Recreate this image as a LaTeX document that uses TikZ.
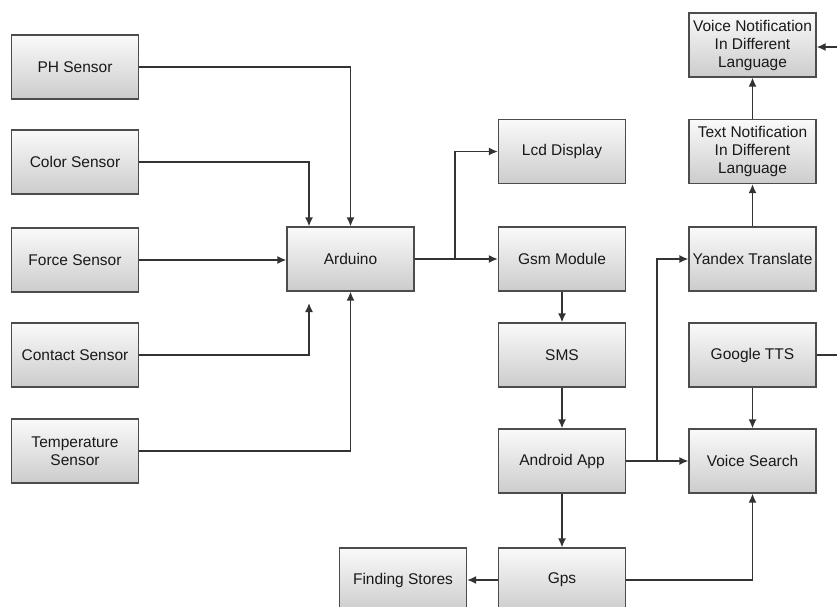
\documentclass[tikz,border=0pt]{standalone}
\usepackage{fontspec}
\setmainfont{Liberation Sans}
\usetikzlibrary{arrows.meta}
\begin{document}
\begin{tikzpicture}[x=1pt,y=-1pt,
  blk/.style={draw=gray!60!black, line width=1.2pt, top color=gray!4, bottom color=gray!40,
    minimum width=127pt, minimum height=64pt, inner sep=1pt, align=center,
    font=\fontsize{15.5}{18}\selectfont, text=black!90},
  conn/.style={draw=black!80, line width=1.5pt, -{Latex[length=9pt,width=8pt]}},
  plain/.style={draw=black!80, line width=1.5pt}]
\useasboundingbox (0,0) rectangle (837,607);
\clip (0,0) rectangle (837,607);
% left column
\node[blk] (ph) at (75,67) {PH Sensor};
\node[blk] (color) at (75,162) {Color Sensor};
\node[blk] (force) at (75,260) {Force Sensor};
\node[blk] (contact) at (75,355) {Contact Sensor};
\node[blk] (temp) at (75,451) {Temperature\\Sensor};
\node[blk] (ard) at (350.5,259) {Arduino};
% middle column
\node[blk] (lcd) at (562,151.5) {Lcd Display};
\node[blk] (gsm) at (562,259) {Gsm Module};
\node[blk] (sms) at (562,355) {SMS};
\node[blk] (app) at (562,461) {Android App};
\node[blk] (gps) at (562,580) {Gps};
\node[blk] (find) at (403,580) {Finding Stores};
% right column
\node[blk] (vn) at (752.5,45) {Voice Notification\\In Different\\Language};
\node[blk] (tn) at (752.5,151.5) {Text Notification\\In Different\\Language};
\node[blk] (yt) at (752.5,259) {Yandex Translate};
\node[blk] (tts) at (752.5,355) {Google TTS};
\node[blk] (vs) at (752.5,461) {Voice Search};
% helper coordinates
\coordinate (c1) at (309,303);
\coordinate (br) at (455,259);
\coordinate (br2) at (657,461);
\coordinate (ttsout) at (850,355);
\coordinate (vnin) at (850,47);
% connectors into Arduino
\draw[conn] (ph.east) -| (ard.north);
\draw[conn] (color.east) -| (ard.north -| c1);
\draw[conn] (force.east) -- (ard.west |- force.east);
\draw[conn] (contact.east) -| (c1);
\draw[conn] (temp.east) -| (ard.south);
% Arduino outputs
\draw[plain] (ard.east) -- (br);
\draw[conn] (br) |- (lcd.west);
\draw[conn] (br) -- (gsm.west);
% middle chain
\draw[conn] (gsm) -- (sms);
\draw[conn] (sms) -- (app);
\draw[conn] (app) -- (gps);
\draw[conn] (gps) -- (find);
% right side
\draw[conn] (app.east) -- (vs.west);
\draw[conn] (br2) |- (yt.west);
\draw[conn] (yt) -- (tn);
\draw[conn] (tn) -- (vn);
\draw[conn] (tts) -- (vs);
\draw[conn] (gps.east) -| (vs.south);
\draw[plain] (tts.east) -- (ttsout) -- (vnin);
\draw[conn] (vnin) -- (vn.east |- vnin);
\end{tikzpicture}
\end{document}
